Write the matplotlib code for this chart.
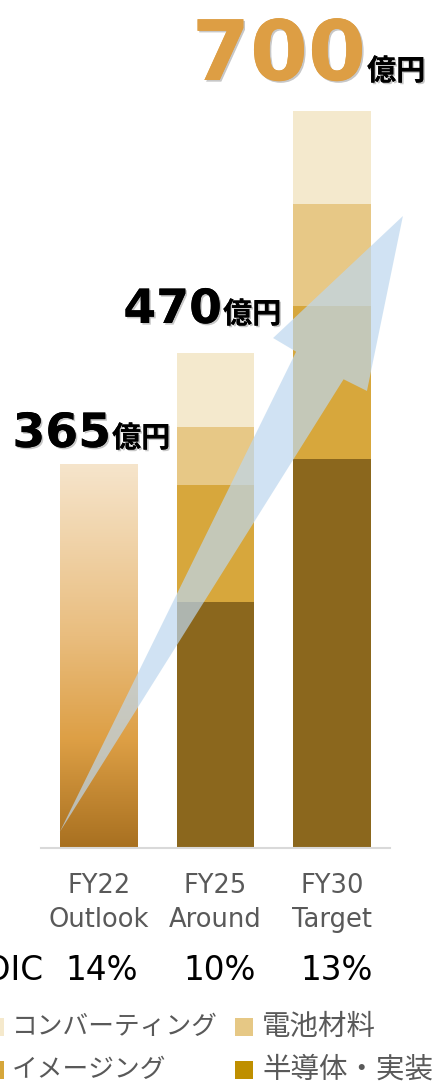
import matplotlib
matplotlib.use("Agg")
import matplotlib.pyplot as plt
import numpy as np
from matplotlib import patheffects as pe
from matplotlib.colors import LinearSegmentedColormap
from matplotlib.patches import Polygon, Rectangle

W, H = 436, 1085

# data
periods = ["FY22\nOutlook", "FY25\nAround", "FY30\nTarget"]
totals = [365, 470, 700]
segments = ["半導体・実装", "イメージング", "電池材料", "コンバーティング"]
semicon = [0, 234, 370]
imaging = [0, 111, 145]
battery = [0, 55, 97]
converting = [0, 70, 88]
roic = ["14%", "10%", "13%"]

_BAR_COLORS = ["#8b671d", "#d7a73c", "#e7c886", "#f4e9cd"]
_LEGEND_COLORS = {"半導体・実装": "#bf8f00", "イメージング": "#d6a63a",
                  "電池材料": "#e6c885", "コンバーティング": "#f5e9cc"}
_GRAD = ["#f6e5cc", "#e9bd7e", "#dd9f45", "#a87020"]
_TEXT = "#595959"
_CJK = ["Noto Sans CJK JP", "DejaVu Sans"]
_NUM = ["DejaVu Sans", "Noto Sans CJK JP"]

# growth arrow outline (data coords)
_ARROW = [(-0.339, 15.2), (1.693, 471.5), (1.495, 484.5), (2.611, 600.4),
          (2.302, 434.2), (2.101, 445.3)]


def px(x, y):
    return x / W, 1 - y / H


fig = plt.figure(figsize=(W / 100, H / 100), dpi=100)
fig.patch.set_facecolor("white")
ax = fig.add_axes([41 / W, (H - 848) / H, (390 - 41) / W, 848 / H])

xs = np.arange(len(periods))
bottom = np.zeros(len(periods))
for vals, color in zip([semicon, imaging, battery, converting], _BAR_COLORS):
    ax.bar(xs, vals, width=0.67, bottom=bottom, color=color, linewidth=0, zorder=2)
    bottom += np.array(vals)

# FY22: single bar with vertical gradient
outline = ax.bar(0, totals[0], width=0.67, color="none", linewidth=0, zorder=2)[0]
cmap = LinearSegmentedColormap.from_list("grad", list(zip([0, 0.45, 0.72, 1.0], _GRAD)))
im = ax.imshow(np.linspace(0, 1, 256).reshape(-1, 1), cmap=cmap, aspect="auto",
               extent=(outline.get_x(), outline.get_x() + outline.get_width(), 0, totals[0]),
               zorder=2)
im.set_clip_path(outline)

ax.add_patch(Polygon(_ARROW, closed=True, facecolor="#bdd7ee", alpha=0.7,
                     edgecolor="none", zorder=3, clip_on=False))

ax.set_xlim(-0.5, 2.5)
ax.set_ylim(0, 848 / 1.0526)
ax.set_facecolor("none")
for side in ("top", "right", "left"):
    ax.spines[side].set_visible(False)
ax.spines["bottom"].set_color("#d9d9d9")
ax.spines["bottom"].set_linewidth(1.5)
ax.set_yticks([])
ax.set_xticks(xs, periods)
ax.tick_params(axis="x", length=0, pad=18, labelsize=18.5, labelcolor=_TEXT)
for lab in ax.get_xticklabels():
    lab.set_linespacing(1.4)

# total labels
shadow = [pe.withSimplePatchShadow(offset=(1.2, -1.2), shadow_rgbFace="black", alpha=0.22),
          pe.Normal()]
label_pos = [(111, 447, 34, "black"), (222, 323, 34, "black"), (366, 80, 60, "#dd9e44")]
for total, (lx, ly, size, color) in zip(totals, label_pos):
    fig.text(*px(lx, ly), str(total), ha="right", va="baseline", fontsize=size,
             weight="bold", color=color, family=_NUM, path_effects=shadow)
    fig.text(*px(lx + 1, ly), "億円", ha="left", va="baseline", fontsize=21,
             weight="bold", color="black", family=_CJK, path_effects=shadow)

# ROIC row
fig.text(*px(44, 980), "ROIC", ha="right", va="baseline", fontsize=23.5,
         color="black", family=_NUM)
for val, cx in zip(roic, [102, 220, 337]):
    fig.text(*px(cx, 980), val, ha="center", va="baseline", fontsize=23.5,
             color="black", family=_NUM)

# legend
legend_pos = {"コンバーティング": (-14, 12, 1027, 18.5), "電池材料": (235, 262, 1027, 20.5),
              "イメージング": (-14, 12, 1070, 18.5), "半導体・実装": (235, 262, 1070, 20.5)}
for name in segments:
    sx, tx, yc, size = legend_pos[name]
    fig.add_artist(Rectangle(px(sx, yc + 9), 18 / W, 18 / H, transform=fig.transFigure,
                             facecolor=_LEGEND_COLORS[name], edgecolor="none"))
    fig.text(*px(tx, yc), name, ha="left", va="center", fontsize=size,
             color=_TEXT, family=_CJK)

fig.savefig("out.png", dpi=100, facecolor="white")
